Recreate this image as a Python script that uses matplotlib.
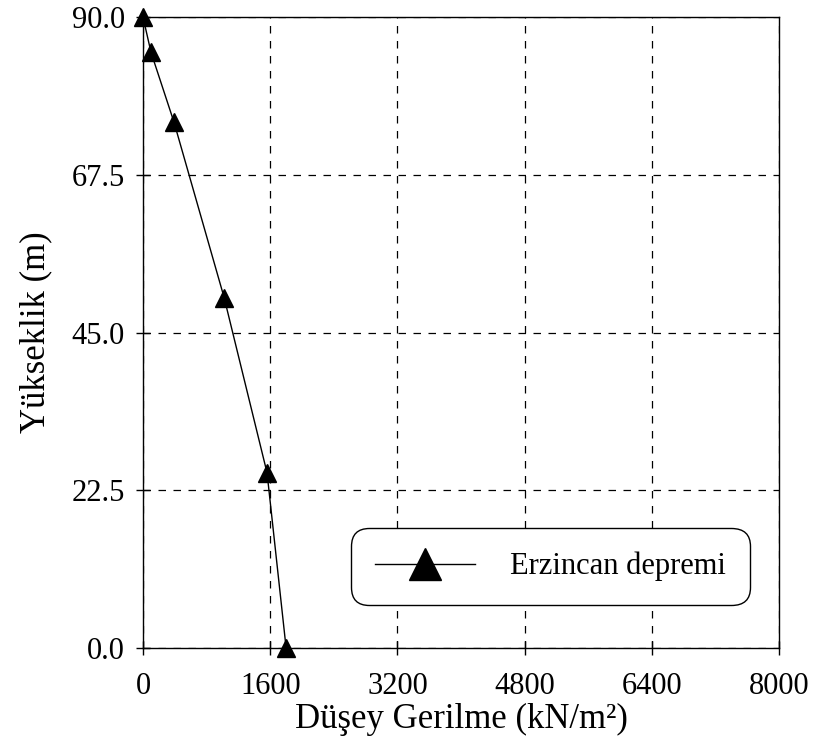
import matplotlib
matplotlib.use("Agg")
from matplotlib import pyplot as plt

# veriler
gerilme = [0, 100, 390, 1020, 1560, 1800]   # kN/m2
yukseklik = [90, 85, 75, 50, 25, 0]          # m
x_ticks = [0, 1600, 3200, 4800, 6400, 8000]
y_ticks = [0.0, 22.5, 45.0, 67.5, 90.0]
etiket = "Erzincan depremi"

plt.rcParams['font.family'] = ['Liberation Serif', 'DejaVu Serif']

fig = plt.figure(figsize=(8.14, 7.44), dpi=100)
ax = fig.add_subplot(111)
fig.subplots_adjust(left=0.1757, right=0.957, top=0.977, bottom=0.129)

ax.plot(gerilme, yukseklik, color='black', lw=1, marker='^', ms=13,
        mfc='black', mec='black', label=etiket, clip_on=False, zorder=5)

ax.set_xlim(0, 8000)
ax.set_ylim(0, 90)
ax.set_xticks(x_ticks)
ax.set_yticks(y_ticks)
ax.set_yticklabels(["%.1f" % v for v in y_ticks])
ax.tick_params(direction='inout', length=10, width=1, labelsize=22)
ax.tick_params(axis='x', pad=12)
ax.tick_params(axis='y', pad=8)
ax.grid(True, color='black', ls=(0, (6, 6)), lw=0.9)
for s in ax.spines.values():
    s.set_linewidth(1)

ax.set_xlabel("Düşey Gerilme (kN/m²)", fontsize=25, labelpad=2)
ax.set_ylabel("Yükseklik (m)", fontsize=25, labelpad=14)

leg = ax.legend(loc='lower right', bbox_to_anchor=(0.954, 0.068), fontsize=22,
                handlelength=3.27, borderpad=0.78, handletextpad=1.15,
                markerscale=1.8, fancybox=True, framealpha=1, borderaxespad=0)
leg.get_frame().set_edgecolor('black')
leg.get_frame().set_linewidth(1)
leg.get_frame().set_boxstyle('round,pad=0,rounding_size=0.6')

fig.savefig("out.png", dpi=100)
